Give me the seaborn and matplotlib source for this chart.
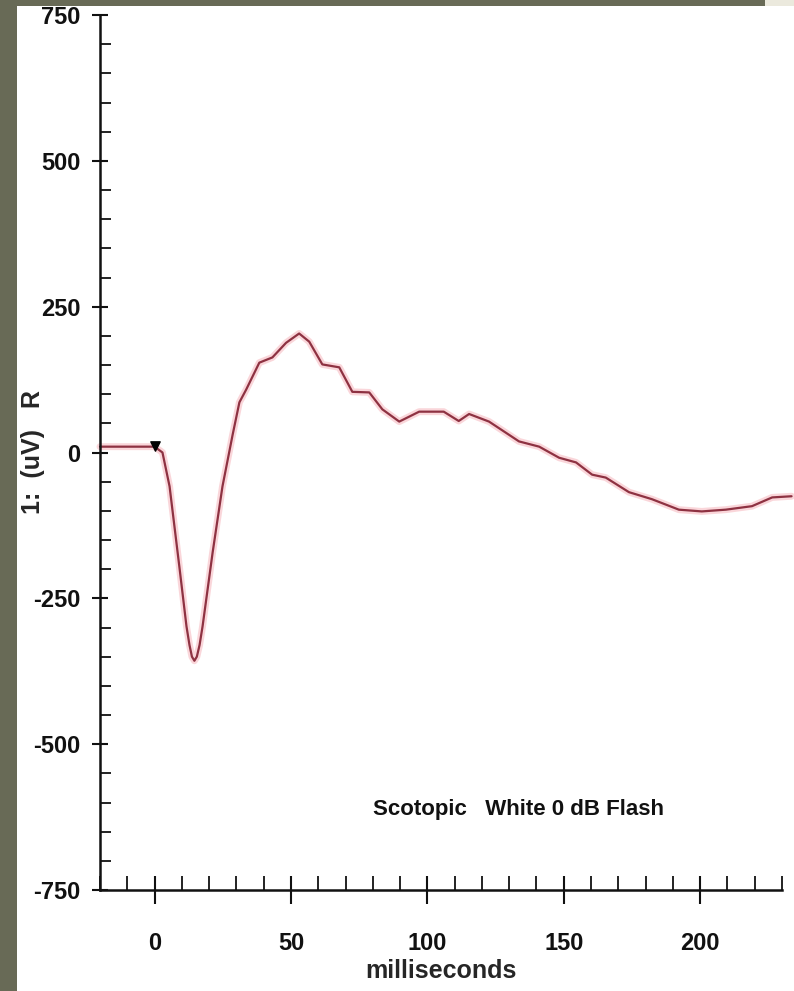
import matplotlib
matplotlib.use("Agg")
import matplotlib.pyplot as plt
import seaborn as sns
import pandas as pd
from matplotlib.patches import Rectangle
from matplotlib.ticker import MultipleLocator

# ---- data ----
time_ms = [-20, 0, 2.9, 5.5, 9.2, 11.7, 12.8, 13.7, 14.6, 15.5, 16.5, 17.6, 21.3, 24.9, 28.6,
           31.1, 33.6, 38.4, 43.2, 48.2, 53.0, 56.7, 61.5, 67.7, 72.5, 78.7,
           83.5, 89.7, 97.0, 106.0, 111.5, 115.3, 122.6, 133.6, 141.0, 148.3,
           154.5, 160.4, 165.4, 173.9, 182.3, 192.2, 200.6, 209.4, 219.0,
           226.4, 233.5]
voltage_uv = [10, 10, 0, -58, -200, -298, -330, -350, -357, -350, -330, -298, -171, -58, 30,
              86, 108, 154, 163, 188, 204, 190, 151, 146, 104, 103,
              74, 53, 70, 70, 54, 66, 53, 19, 10, -9,
              -17, -38, -43, -68, -80, -98, -101, -98, -92,
              -77, -75]
marker_t = [0]
marker_v = [12]
y_ticks = [750, 500, 250, 0, -250, -500, -750]
y_tick_labels = ["750", "500", "250", "0", "-250", "-500", "-750"]
x_ticks = [0, 50, 100, 150, 200]
x_tick_labels = ["0", "50", "100", "150", "200"]
annotation = "Scotopic   White 0 dB Flash"
x_label = "milliseconds"
y_label = "1:  (uV)   R"

df = pd.DataFrame({"t": time_ms, "v": voltage_uv})

sns.set_style("ticks")
plt.rcParams["font.family"] = ["Liberation Sans", "DejaVu Sans"]
plt.rcParams["font.weight"] = "bold"

fig = plt.figure(figsize=(7.94, 9.91), dpi=100)
fig.patch.set_facecolor("white")

# decorative frame bands (slide background)
W, H = 794, 991
fig.patches.append(Rectangle((0, 0), 17 / W, 1, transform=fig.transFigure,
                             facecolor="#686a56", edgecolor="none", zorder=-5))
fig.patches.append(Rectangle((0, 1 - 6 / H), 765 / W, 6 / H, transform=fig.transFigure,
                             facecolor="#686a56", edgecolor="none", zorder=-5))
fig.patches.append(Rectangle((765 / W, 1 - 6 / H), 29 / W, 6 / H, transform=fig.transFigure,
                             facecolor="#ebe9dd", edgecolor="none", zorder=-5))

ax = fig.add_axes([100 / W, 1 - 890 / H, 682 / W, 875 / H])
ax.set_facecolor("none")

# halo + core line
sns.lineplot(data=df, x="t", y="v", ax=ax, color="#f4a6ae", linewidth=5,
             alpha=0.45, clip_on=False, sort=False)
sns.lineplot(data=df, x="t", y="v", ax=ax, color="#8e3242", linewidth=1.6,
             clip_on=False, sort=False)
ax.scatter(marker_t, marker_v, marker="v", s=45, color="black", zorder=5)

ax.set_xlim(-20, 230)
ax.set_ylim(-750, 750)

ax.set_xticks(x_ticks)
ax.set_xticklabels(x_tick_labels)
ax.set_yticks(y_ticks)
ax.set_yticklabels(y_tick_labels)
ax.xaxis.set_minor_locator(MultipleLocator(10))
ax.yaxis.set_minor_locator(MultipleLocator(50))

ax.tick_params(axis="x", which="major", direction="inout", length=20, width=1.5,
               labelsize=17, pad=20, colors="#111111")
ax.tick_params(axis="x", which="minor", direction="in", length=10, width=1.3,
               colors="#111111")
ax.tick_params(axis="y", which="major", direction="inout", length=12, width=1.5,
               labelsize=17, pad=8, colors="#111111")
ax.tick_params(axis="y", which="minor", direction="in", length=8, width=1.3,
               colors="#111111")
for lab in ax.get_xticklabels() + ax.get_yticklabels():
    lab.set_fontweight("bold")

sns.despine(ax=ax, top=True, right=True)
for s in ["left", "bottom"]:
    ax.spines[s].set_linewidth(1.8)
    ax.spines[s].set_color("#111111")

ax.set_xlabel(x_label, fontsize=18, fontweight="bold", labelpad=3)
ax.set_ylabel(y_label, fontsize=18, fontweight="bold")
ax.yaxis.set_label_coords(-0.08, 0.5)

ax.text(80, -612, annotation, fontsize=16, fontweight="bold", ha="left",
        va="center", color="#111111")

fig.savefig("out.png", dpi=100)
